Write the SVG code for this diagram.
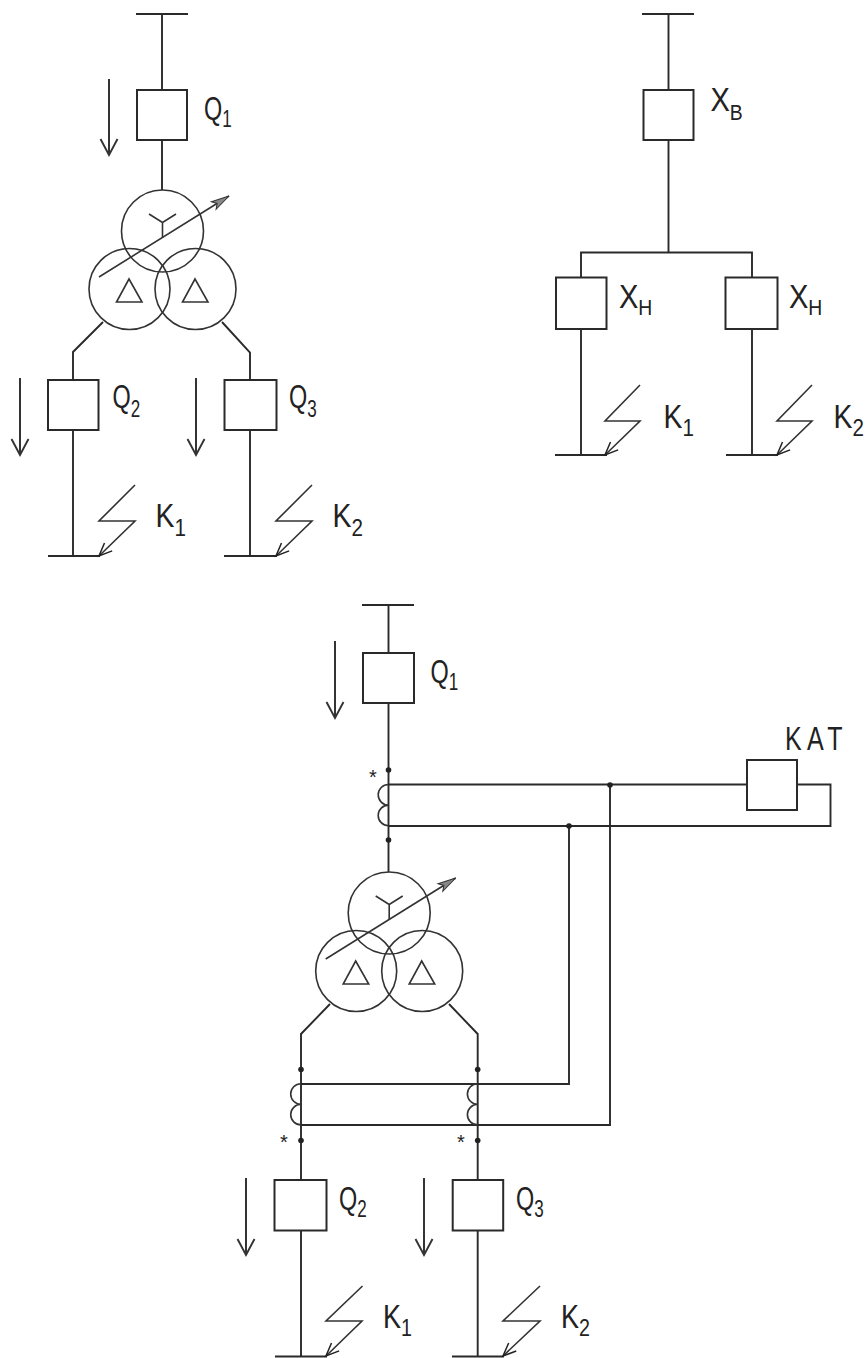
<svg xmlns="http://www.w3.org/2000/svg" width="866" height="1358" viewBox="0 0 866 1358">
<style>
.l{fill:none;stroke:#2a2a2a;stroke-width:1.9}
.t{fill:none;stroke:#333;stroke-width:1.6}
.b{fill:#fff;stroke:#2a2a2a;stroke-width:2}
.d{fill:#222;stroke:none}
text{font-family:"Liberation Sans",Arial,sans-serif;font-size:33px;fill:#222}
.s{font-size:24px}
.sx{font-size:22px}
.st{font-size:20px}
</style>
<defs>
<marker id="down" markerUnits="userSpaceOnUse" markerWidth="24" markerHeight="24" refX="20" refY="10" orient="auto"><path d="M4 1.500L20 10L4 18.500" fill="none" stroke="#333" stroke-width="1.9"/></marker>
<marker id="hit" markerUnits="userSpaceOnUse" markerWidth="20" markerHeight="20" refX="16" refY="8" orient="auto"><path d="M3 2.500L16 8L3 13.500" fill="none" stroke="#222" stroke-width="1.5"/></marker>
<marker id="reg" markerUnits="userSpaceOnUse" markerWidth="26" markerHeight="16" refX="24" refY="8" orient="auto"><path d="M24 8L6 3.500L10 8L6 12.500Z" fill="#888" stroke="#333" stroke-width="1"/></marker>
<g id="trafo-shape">
<circle class="t" cx="162.500" cy="231" r="41"/>
<circle class="t" cx="129.500" cy="289" r="40.500"/>
<circle class="t" cx="195.500" cy="289" r="40.500"/>
<path class="t" d="M162.500 238V222.500M149 214L162.500 222.500L176 214"/>
<path class="t" d="M129 279L116.500 302H142Z"/>
<path class="t" d="M195 279L182.500 302H208Z"/>
<path class="t" d="M99 277L229 196" marker-end="url(#reg)"/>
</g>
<g id="coil"><path class="t" d="M0 0A10.300 10.300 0 0 0 0 20.600A10.300 10.300 0 0 0 0 41.200"/></g>
</defs>

<g id="connectors">
<!-- top left -->
<path class="l" d="M136 14H188M162 14V90M162 140V190"/>
<path class="l" d="M103 322L73 352V380M73 430V556M48 556H100"/>
<path class="l" d="M222 322L250 352.500V380M250 430V556M224 556H277"/>
<path class="l" d="M109 79V155" marker-end="url(#down)"/>
<path class="l" d="M20 378V455" marker-end="url(#down)"/>
<path class="l" d="M196 378V455" marker-end="url(#down)"/>
<path class="t" d="M135 485L99 521H135L99 556" marker-end="url(#hit)"/>
<path class="t" d="M312 485L276 521H312L276 556" marker-end="url(#hit)"/>
<!-- top right -->
<path class="l" d="M642 14H694M668.500 14V90M668.500 140V252.500M581 277V252.500H752V277"/>
<path class="l" d="M581 329V455M555 455H607M752 329V455M726 455H778"/>
<path class="t" d="M640 385L605 421H640L605 455" marker-end="url(#hit)"/>
<path class="t" d="M812 385L777 421H812L777 455" marker-end="url(#hit)"/>
<!-- bottom -->
<path class="l" d="M362 605H414M388.500 605V653M388.500 703V872"/>
<path class="l" d="M335 641V718" marker-end="url(#down)"/>
<path class="l" d="M388.500 784.500H747M797 784.500H830.500V826H388.500"/>
<path class="l" d="M610 785V1125H301M569 826V1084H301"/>
<path class="l" d="M330 1004L301 1034V1180M301 1230V1356.500M275 1356.500H327"/>
<path class="l" d="M449 1004L477.700 1034V1180M477.700 1230V1356.500M452 1356.500H504"/>
<path class="l" d="M246 1178V1255" marker-end="url(#down)"/>
<path class="l" d="M424 1178V1255" marker-end="url(#down)"/>
<path class="t" d="M362.500 1286L326 1321H362L326 1356" marker-end="url(#hit)"/>
<path class="t" d="M540 1286L503 1321H540L503 1356" marker-end="url(#hit)"/>
<circle class="d" cx="388.500" cy="770" r="2.800"/><circle class="d" cx="388.500" cy="840" r="2.800"/>
<circle class="d" cx="610" cy="785" r="2.800"/><circle class="d" cx="569" cy="826" r="2.800"/>
<circle class="d" cx="301" cy="1069.500" r="2.800"/><circle class="d" cx="477.700" cy="1069.500" r="2.800"/>
<circle class="d" cx="301" cy="1140.500" r="2.800"/><circle class="d" cx="477.700" cy="1140.500" r="2.800"/>
</g>

<g id="q1-top"><rect class="b" x="137" y="90" width="50" height="50"/><text transform="translate(204 120) scale(.71 1)">Q<tspan class="s" dy="7">1</tspan></text></g>
<g id="transformer-top"><use href="#trafo-shape"/></g>
<g id="q2-top"><rect class="b" x="48" y="380" width="50.500" height="50"/><text transform="translate(112.500 407.500) scale(.71 1)">Q<tspan class="s" dy="9">2</tspan></text></g>
<g id="q3-top"><rect class="b" x="224.500" y="380" width="52" height="50"/><text transform="translate(289 407.500) scale(.71 1)">Q<tspan class="s" dy="9">3</tspan></text></g>
<g id="k1-top"><text transform="translate(155.500 527) scale(.86 1)">K<tspan class="s" dy="9">1</tspan></text></g>
<g id="k2-top"><text transform="translate(332.500 527) scale(.86 1)">K<tspan class="s" dy="9">2</tspan></text></g>

<g id="xb"><rect class="b" x="643.500" y="90" width="50" height="50"/><text transform="translate(710.500 110.700) scale(.88 1)">X<tspan class="sx" dy="9">B</tspan></text></g>
<g id="xh-left"><rect class="b" x="556" y="277.500" width="50.500" height="51.500"/><text transform="translate(619 308.300) scale(.88 1)">X<tspan class="sx" dy="7">H</tspan></text></g>
<g id="xh-right"><rect class="b" x="725.500" y="277.500" width="52" height="51.500"/><text transform="translate(789 308.300) scale(.88 1)">X<tspan class="sx" dy="7">H</tspan></text></g>
<g id="k1-right"><text transform="translate(663.500 428) scale(.86 1)">K<tspan class="s" dy="8">1</tspan></text></g>
<g id="k2-right"><text transform="translate(833.500 428) scale(.86 1)">K<tspan class="s" dy="8">2</tspan></text></g>

<g id="q1-bottom"><rect class="b" x="363" y="653" width="51" height="50"/><text transform="translate(430.500 683) scale(.71 1)">Q<tspan class="s" dy="7">1</tspan></text></g>
<g id="ct-top"><use href="#coil" x="388.500" y="784.500"/><text class="st" x="369" y="784">*</text></g>
<g id="kat"><rect class="b" x="747" y="760" width="50" height="50"/><text transform="translate(785 750) scale(.76 1)" letter-spacing="7">KAT</text></g>
<g id="transformer-bottom"><use href="#trafo-shape" x="226.700" y="682"/></g>
<g id="ct-left"><use href="#coil" x="301" y="1083.700"/><text class="st" x="280" y="1149">*</text></g>
<g id="ct-right"><use href="#coil" x="477.700" y="1083.700"/><text class="st" x="457" y="1149">*</text></g>
<g id="q2-bottom"><rect class="b" x="274.500" y="1180" width="52" height="50.500"/><text transform="translate(339 1210) scale(.71 1)">Q<tspan class="s" dy="7">2</tspan></text></g>
<g id="q3-bottom"><rect class="b" x="452.700" y="1180" width="50.500" height="50.500"/><text transform="translate(516 1210) scale(.71 1)">Q<tspan class="s" dy="7">3</tspan></text></g>
<g id="k1-bottom"><text transform="translate(383 1328) scale(.82 1)">K<tspan class="s" dy="8">1</tspan></text></g>
<g id="k2-bottom"><text transform="translate(561 1328) scale(.82 1)">K<tspan class="s" dy="8">2</tspan></text></g>
</svg>
